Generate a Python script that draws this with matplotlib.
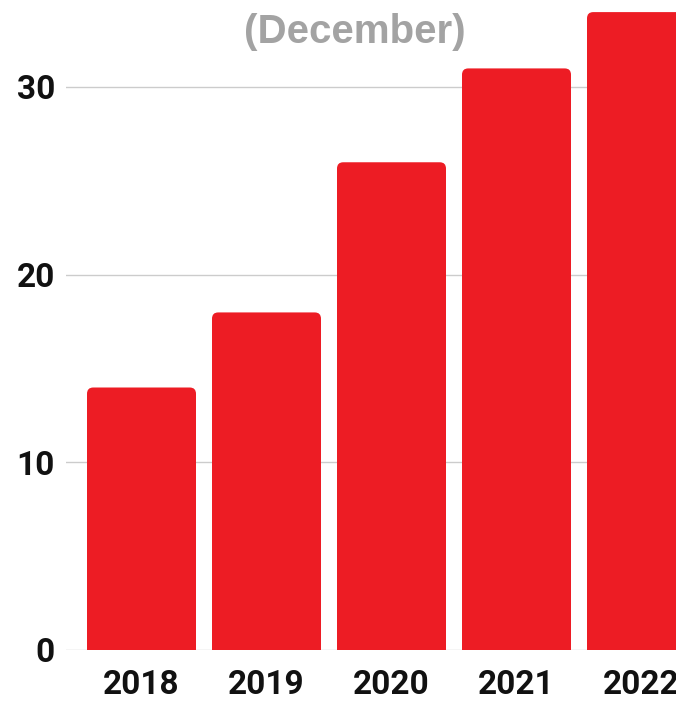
import matplotlib.pyplot as plt
from matplotlib.patches import FancyBboxPatch

years = ["2018", "2019", "2020", "2021", "2022"]
values = [14, 18, 26, 31, 34]
yticks = [0, 10, 20, 30]

red = "#ED1C24"

fig = plt.figure(figsize=(6.76, 7.01), dpi=100)
# axes runs past the right edge so the last bar is cut off like the reference
ax = fig.add_axes([66 / 676, 51 / 701, 610 / 676, 650 / 701])

bars = ax.bar(range(len(years)), values, width=0.872, color=red)
# swap plain bars for ones with rounded tops (bottom hidden under the axis)
for b in bars:
    x, w, h = b.get_x(), b.get_width(), b.get_height()
    b.remove()
    p = FancyBboxPatch((x + 0.05, -1), w - 0.1, h + 1 - 0.35,
                       boxstyle="round,pad=0.05,rounding_size=0.05",
                       mutation_aspect=6.7, fc=red, ec="none", zorder=2)
    ax.add_patch(p)

ax.set_xlim(-0.604, 4.276)
ax.set_ylim(0, 650 / 18.77)
ax.set_yticks(yticks)
ax.set_xticks(range(len(years)))
ax.set_xticklabels(years)
ax.yaxis.grid(True, color="#CCCCCC", linewidth=1, zorder=0)
ax.set_axisbelow(True)
for s in ax.spines.values():
    s.set_visible(False)
ax.tick_params(length=0)
ax.tick_params(axis="y", pad=8)
ax.tick_params(axis="x", pad=14)
for lab in ax.get_xticklabels() + ax.get_yticklabels():
    lab.set_fontfamily("Roboto")
    lab.set_fontweight("bold")
    lab.set_fontsize(24)
    lab.set_color("#111111")
# last year label is cut by the right edge in the original too
ax.get_xticklabels()[-1].set_clip_on(False)

fig.text(355 / 676, 1 - 32 / 701, "(December)", ha="center", va="center",
         fontsize=29, fontweight="bold", family="Liberation Sans", color="#A3A3A3")

fig.savefig("out.png", dpi=100)
